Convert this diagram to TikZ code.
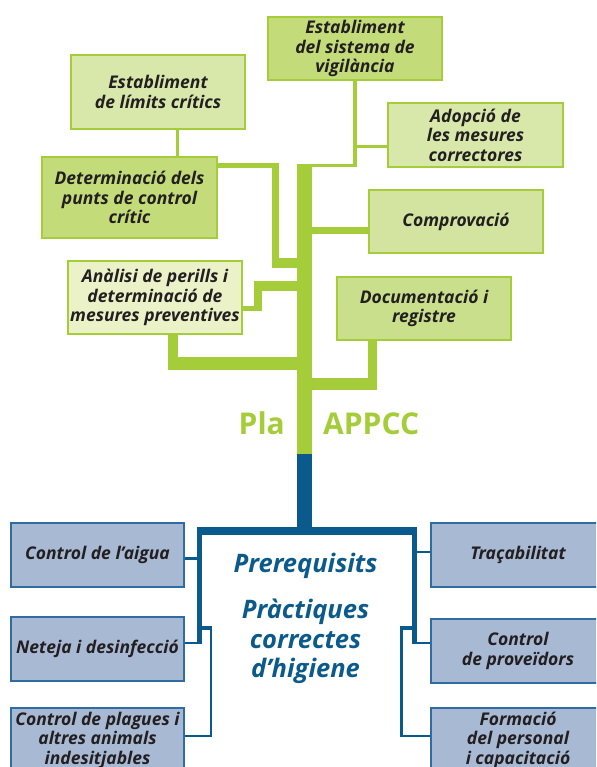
\documentclass[tikz,border=0pt]{standalone}
\usepackage{fontspec}
\setmainfont{Open Sans}
\usetikzlibrary{calc}
\definecolor{lime}{HTML}{A5CD39}
\definecolor{bdark}{HTML}{0B5A8C}
\definecolor{bfill}{HTML}{A7B9D3}
\definecolor{bline}{HTML}{2F6CA3}
\definecolor{txt}{HTML}{231F20}
\definecolor{gA}{HTML}{C4DB7A}
\definecolor{gB}{HTML}{D7E8AA}
\definecolor{gC}{HTML}{D2E4A0}
\definecolor{gD}{HTML}{EBF2C8}
\definecolor{gE}{HTML}{C9DF8B}
\begin{document}
\begin{tikzpicture}[x=1pt,y=-1pt,
  boxfont/.style={font=\fontsize{17.5}{19.5}\selectfont\bfseries\itshape},
  gbox/.style={boxfont, draw=lime, line width=1.2pt, inner sep=0pt, align=center, text=txt, minimum width=174pt},
  bbox/.style={boxfont, draw=bline, fill=bfill, line width=1.2pt, inner sep=0pt, align=center, text=txt, minimum width=173pt},
  gl/.style={draw=lime},
  bl/.style={draw=bdark},
  bigtxt/.style={font=\fontsize{25.5}{29}\selectfont\bfseries\itshape, text=bdark, anchor=base, inner sep=0pt},
  platxt/.style={font=\fontsize{30}{34}\selectfont\bfseries, text=lime, inner sep=0pt}
]
\useasboundingbox (0,0) rectangle (596,767);
\clip (0,0) rectangle (596,767);

% ---------- green boxes ----------
\node[gbox, fill=gA, minimum height=63pt] (vig) at (355,48.5) {Establiment\\del sistema de\\vigilància};
\node[gbox, fill=gB, minimum height=74pt] (lim) at (158,92) {Establiment\\de límits crítics};
\node[gbox, fill=gA, minimum width=175pt, minimum height=81pt] (det) at (129.5,197.5) {Determinació dels\\punts de control\\crític};
\node[gbox, fill=gB, minimum width=175pt, minimum height=64pt] (ado) at (475.5,135) {Adopció de\\les mesures\\correctores};
\node[gbox, fill=gC, minimum height=63pt] (com) at (456,221.5) {Comprovació};
\node[gbox, fill=gD, minimum height=73pt] (ana) at (155,297.5) {Anàlisi de perills i\\determinació de\\mesures preventives};
\node[gbox, fill=gE, minimum height=63pt] (doc) at (424,308.5) {Documentació i\\registre};

% ---------- green connectors ----------
\coordinate (ttop) at (304.5,164);
\coordinate (tmid) at (304.5,454);
\coordinate (tbot) at (304.5,531);
\draw[gl, line width=15pt] (ttop) -- (tmid);

\coordinate (vigj) at (297,165.5);
\draw[gl, line width=3.5pt] (vig.south) |- (vigj);
\coordinate (adoj) at (355,146.5);
\draw[gl, line width=3.5pt] (ado.west |- adoj) -- (adoj);
\coordinate (comj) at (311,230.5);
\draw[gl, line width=7.5pt] (comj) -- (com.west |- comj);

\coordinate (detj) at (279,165.5);
\draw[gl, line width=5pt] (det.east |- detj) -- (detj);
\draw[gl, line width=7pt] (275.5,163) -- (275.5,268);
\draw[gl, line width=10pt] (272,263) -- (298,263);
\coordinate (limj) at ($(lim.south)+(19,0)$);
\draw[gl, line width=3pt] (limj) -- (limj |- det.north);

\coordinate (anaj) at (262,308.5);
\draw[gl, line width=5pt] (ana.east |- anaj) -- (anaj);
\draw[gl, line width=8pt] (258,281) -- (258,311);
\draw[gl, line width=10pt] (254,286) -- (298,286);
\coordinate (anak) at (173,363.5);
\draw[gl, line width=10pt] (anak |- ana.south) -- (173,370);
\draw[gl, line width=13pt] (168,363.5) -- (298,363.5);

\coordinate (docj) at (372.5,384);
\draw[gl, line width=9pt] (docj |- doc.south) -- (372.5,390);
\draw[gl, line width=12pt] (311,384) -- (377,384);

\node[platxt, anchor=base east] (pla) at (285,434) {Pla};
\node[platxt, anchor=base west] (appcc) at (323,434) {APPCC};

% ---------- blue boxes ----------
\node[bbox, minimum height=64pt] (aig) at (97.5,555) {Control de l’aigua};
\node[bbox, minimum height=64pt] (net) at (97.5,649) {Neteja i desinfecció};
\node[bbox, minimum height=64pt] (pla2) at (97.5,740) {Control de plagues i\\altres animals\\indesitjables};
\node[bbox, minimum width=174pt, minimum height=64pt] (tra) at (518,555) {Traçabilitat};
\node[bbox, minimum width=174pt, minimum height=64pt] (pro) at (518,651) {Control\\de proveïdors};
\node[bbox, minimum width=174pt, minimum height=64pt] (for) at (518,740) {Formació\\del personal\\i capacitació};

% ---------- blue connectors ----------
\draw[bl, line width=15pt] (tmid) -- (tbot);
\coordinate (bl1) at (197,531);
\coordinate (br1) at (417,531);
\draw[bl, line width=8pt] (bl1) -- (br1);
\draw[bl, line width=5pt] (199.5,527) -- (199.5,644);
\draw[bl, line width=5pt] (414.5,527) -- (414.5,644);

\coordinate (aigj) at (199.5,558);
\draw[bl, line width=3pt] (aig.east |- aigj) -- (aigj);
\coordinate (netj) at (199.5,642.8);
\draw[bl, line width=2.6pt] (net.east |- netj) -- (netj);
\coordinate (traj) at (414.5,552);
\draw[bl, line width=2.6pt] (tra.west |- traj) -- (traj);
\coordinate (proj) at (414.5,642.8);
\draw[bl, line width=2.6pt] (pro.west |- proj) -- (proj);

\coordinate (plj) at (211,736);
\draw[bl, line width=2.6pt] (200,627.8) -| (plj) -- (pla2.east |- plj);
\draw[bl, line width=4pt] (200,627.8) -- (212,627.8);
\coordinate (foj) at (401.7,736);
\draw[bl, line width=2.6pt] (414,627.8) -| (foj) -- (for.west |- foj);
\draw[bl, line width=4pt] (414,627.8) -- (400.4,627.8);

% ---------- blue titles ----------
\node[bigtxt] (pr1) at (305.5,572) {Prerequisits};
\node[bigtxt] (pr2) at (305.5,618) {Pràctiques};
\node[bigtxt] (pr3) at (305.5,648) {correctes};
\node[bigtxt] (pr4) at (305.5,677) {d’higiene};
\end{tikzpicture}
\end{document}
